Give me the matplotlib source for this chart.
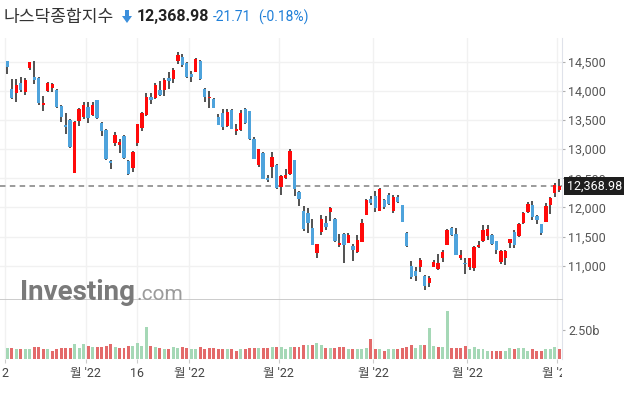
import matplotlib.pyplot as plt
import numpy as np
from matplotlib.patches import Polygon
from matplotlib.transforms import Bbox

# 나스닥종합지수 daily candles, 2 Feb 2022 .. 1 Aug 2022 (124 sessions)
opens = [14510, 14040, 13965, 14130, 13980, 14385, 14235, 14220, 13755, 13998,
         14050, 14010, 13732, 13420, 13500, 12590, 13489, 13558, 13720, 13593,
         13836, 13448, 13333, 12800, 13102, 13078, 13229, 12795, 12680, 13102,
         13356, 13583, 13895, 13877, 14010, 14016, 14223, 14212, 14517, 14575,
         14477, 14287, 14327, 14517, 14027, 13872, 13854, 13555, 13612, 13393,
         13664, 13307, 13324, 13681, 13647, 13180, 12727, 12933, 12510, 12700,
         12730, 12345, 12506, 12580, 12810, 12264, 11943, 11902, 11644, 11213,
         11575, 11741, 11920, 11805, 11356, 11540, 11397, 11339, 11230, 11414,
         11874, 12149, 12190, 11943, 12121, 12218, 11931, 12172, 12034, 11569,
         10994, 10908, 10983, 10817, 10702, 10977, 10943, 11132, 11349, 11653,
         11538, 11132, 11052, 10977, 10960, 11320, 11424, 11504, 11521, 11424,
         11063, 11137, 11389, 11573, 11510, 11733, 11922, 12036, 11847, 11710,
         11750, 12036, 12248, 12305]
highs = [14515, 14210, 14210, 14240, 14225, 14500, 14510, 14240, 13910, 14150,
         14142, 14038, 13750, 13620, 13520, 13490, 13703, 13807, 13807, 13807,
         13847, 13460, 13345, 12810, 13298, 13171, 13235, 12810, 12969, 13440,
         13630, 13970, 13970, 14143, 14171, 14229, 14316, 14390, 14673, 14633,
         14489, 14344, 14569, 14529, 14056, 13998, 13872, 13595, 13681, 13681,
         13681, 13439, 13664, 13704, 13653, 13203, 13006, 12950, 12560, 12950,
         12750, 12563, 12661, 13000, 12810, 12276, 12017, 11997, 11794, 11374,
         11874, 11851, 12000, 11816, 11540, 11569, 11569, 11374, 11529, 11805,
         12149, 12201, 12276, 12334, 12149, 12247, 12218, 12218, 12046, 11587,
         11080, 10983, 11127, 10835, 10817, 11092, 11200, 11263, 11630, 11664,
         11647, 11263, 11137, 11137, 11332, 11424, 11693, 11693, 11538, 11424,
         11263, 11275, 11452, 11607, 11733, 11922, 12093, 12105, 11865, 11722,
         12076, 12179, 12420, 12494]
lows = [14285, 13860, 13810, 13980, 13935, 14356, 14125, 13750, 13662, 13980,
        13980, 13700, 13460, 13260, 13027, 12587, 13400, 13518, 13443, 13575,
        13518, 13229, 12813, 12665, 13055, 12940, 12825, 12555, 12610, 13060,
        13316, 13565, 13768, 13866, 13912, 13912, 14039, 14143, 14460, 14402,
        14229, 14160, 14316, 14189, 13814, 13710, 13699, 13411, 13324, 13382,
        13340, 13237, 13307, 13439, 13160, 12834, 12700, 12480, 12440, 12505,
        12320, 12218, 12489, 12560, 12190, 12017, 11590, 11570, 11357, 11127,
        11529, 11615, 11759, 11414, 11327, 11040, 11385, 11075, 11224, 11402,
        11874, 12046, 11920, 11943, 11977, 12034, 11903, 12080, 11750, 11328,
        10770, 10736, 10890, 10576, 10634, 10977, 10930, 11063, 11349, 11515,
        11178, 11103, 10863, 10920, 10903, 11309, 11406, 11435, 11349, 11206,
        11023, 11006, 11309, 11309, 11492, 11722, 11905, 11779, 11716, 11532,
        11750, 11893, 12179, 12265]
closes = [14418, 13879, 14098, 14016, 14194, 14490, 14186, 13791, 13790, 14140,
          14124, 13717, 13548, 13382, 13037, 13474, 13695, 13751, 13532, 13752,
          13538, 13313, 12831, 12755, 13246, 13130, 12844, 12581, 12949, 13437,
          13615, 13894, 13838, 14109, 13923, 14192, 14169, 14355, 14620, 14442,
          14240, 14241, 14545, 14210, 13900, 13897, 13711, 13412, 13372, 13644,
          13351, 13340, 13620, 13453, 13175, 12839, 13005, 12491, 12470, 12872,
          12335, 12536, 12564, 12965, 12318, 12145, 11623, 11738, 11364, 11371,
          11805, 11663, 11985, 11418, 11388, 11355, 11535, 11265, 11435, 11741,
          12131, 12081, 11994, 12317, 12013, 12061, 12175, 12090, 11754, 11340,
          10809, 10828, 11099, 10646, 10798, 11069, 11053, 11232, 11608, 11525,
          11182, 11178, 11029, 11128, 11322, 11362, 11621, 11635, 11373, 11265,
          11248, 11251, 11452, 11360, 11713, 11898, 12060, 11834, 11783, 11563,
          12032, 12163, 12391, 12368.98]
volumes = [0.92, 0.92, 0.83, 0.83, 0.83, 0.83, 1.00, 1.00, 0.83, 0.83,
           0.72, 0.83, 0.92, 0.92, 0.92, 1.26, 0.92, 1.26, 1.15, 1.00,
           1.00, 1.00, 1.15, 1.26, 1.00, 0.92, 0.92, 1.09, 1.09, 1.35,
           1.09, 2.73, 1.09, 1.00, 0.92, 0.83, 0.83, 1.00, 0.92, 1.00,
           0.92, 0.83, 0.83, 1.00, 0.83, 0.92, 0.92, 0.83, 0.83, 0.83,
           0.83, 0.72, 0.83, 0.83, 0.92, 0.92, 0.92, 0.92, 0.92, 1.00,
           1.00, 1.00, 0.83, 1.00, 1.00, 1.00, 1.18, 1.18, 1.18, 1.35,
           1.18, 0.92, 0.92, 0.92, 1.00, 1.06, 0.83, 0.83, 0.83, 0.83,
           0.92, 1.72, 0.83, 0.83, 0.72, 0.83, 0.83, 0.83, 0.92, 1.00,
           1.18, 0.92, 1.18, 1.18, 2.64, 1.09, 1.00, 1.00, 4.13, 0.92,
           0.92, 0.92, 1.09, 0.83, 1.00, 0.83, 0.83, 0.72, 0.72, 0.72,
           0.72, 0.72, 0.92, 0.83, 0.92, 0.92, 0.72, 0.83, 0.72, 0.72,
           0.83, 0.83, 1.00, 0.83]
prev_close = 14346.0  # close before the first session

xtick_pos = [-0.5, 17.5, 29, 40.5, 60.5, 81.5, 102.5, 122.5]
xtick_labels = ["2", "월 '22", "16", "월 '22", "월 '22", "월 '22", "월 '22", "월 '22"]
price_ticks = [11000, 11500, 12000, 12500, 13000, 13500, 14000, 14500]
vol_ticks = [2.5]
vol_tick_labels = ["2.50b"]

title = "나스닥종합지수"
last_price = 12368.98
change = -21.71
change_pct = -0.18

UP = "#ff0a0a"
DOWN = "#4ea3dc"
VUP = "#a5d8b6"
VDOWN = "#e36a6a"
W, H = 629, 397

plt.rcParams['font.family'] = ['Roboto', 'Noto Sans CJK KR', 'DejaVu Sans']

fig = plt.figure(figsize=(W / 100, H / 100), dpi=100)
ax = fig.add_axes([0, (H - 300) / H, 562 / W, (300 - 38) / H])
axv = fig.add_axes([0, (H - 359) / H, 562 / W, (359 - 300) / H], sharex=ax)

o = np.array(opens, float)
h = np.array(highs, float)
l = np.array(lows, float)
c = np.array(closes, float)
x = np.arange(len(c))
up = c >= o

# candles: wick then body
ax.vlines(x, l, h, color="#222222", lw=1.1, zorder=2)
body_lo = np.minimum(o, c)
body_h = np.maximum(np.abs(c - o), 12)
ax.bar(x, body_h, bottom=body_lo, width=0.74, color=np.where(up, UP, DOWN),
       linewidth=0, zorder=3)

ax.set_xlim(-1.63, 123.6)
ax.set_ylim(10412, 14907)

# last price line + label
ax.axhline(last_price, color="#8a8a8a", lw=1.2, ls=(0, (3.3, 2.6)), zorder=1)
ax.annotate(f"{last_price:,.2f}", xy=(1, last_price),
            xycoords=('axes fraction', 'data'), xytext=(3.3, 0),
            textcoords='offset points', va='center', ha='left',
            color='white', fontsize=9, annotation_clip=False, zorder=10,
            bbox=dict(boxstyle='square,pad=0.2', fc='#1e1e1e', ec='none'))

ax.yaxis.tick_right()
ax.set_yticks(price_ticks)
ax.set_yticklabels([f"{t:,}" for t in price_ticks])
ax.tick_params(axis='y', length=2.5, width=0.8, color='#b0b0b0', pad=2,
               labelsize=9, labelcolor='#555555')
ax.tick_params(axis='x', length=0, labelbottom=False)
ax.set_xticks(xtick_pos)
ax.grid(True, color='#f1f1f1', lw=1.0, zorder=0)
ax.set_axisbelow(True)
for s in ['top', 'left']:
    ax.spines[s].set_visible(False)
ax.spines['right'].set_color('#dfe2ea')
ax.spines['bottom'].set_color('#c4c4c4')
ax.spines['bottom'].set_linewidth(1.2)

# volume, coloured by change vs previous close
cprev = np.concatenate([[prev_close], c[:-1]])
vcol = np.where(c > cprev, VUP, VDOWN)
axv.bar(x, volumes, width=0.66, color=vcol, linewidth=0, zorder=2)
axv.set_ylim(0, 5.09)
axv.yaxis.tick_right()
axv.set_yticks(vol_ticks)
axv.set_yticklabels(vol_tick_labels)
axv.tick_params(axis='y', length=2.5, width=0.8, color='#b0b0b0', pad=2,
                labelsize=9, labelcolor='#555555')
axv.set_xticks(xtick_pos)
axv.set_xticklabels(xtick_labels)
axv.tick_params(axis='x', length=3, width=0.8, color='#cccccc', pad=2.5,
                labelsize=9, labelcolor='#444444')
axv.grid(True, axis='x', color='#f1f1f1', lw=1.0, zorder=0)
axv.set_axisbelow(True)
for s in ['top', 'left', 'bottom']:
    axv.spines[s].set_visible(False)
axv.spines['right'].set_color('#dfe2ea')

# last x label is cut at the right edge of the plot
clip = Bbox([[0, 0], [562, H]])
axv.get_xticklabels()[-1].set_clip_box(clip)
axv.get_xticklabels()[-1].set_clip_on(True)

# header
fig.text(4 / W, 1 - 17 / H, title, fontsize=12.3, color='#333333',
         family=['Noto Sans CJK KR', 'DejaVu Sans'], va='center', ha='left')
arrow_px = np.array([[125, 10], [129, 10], [129, 16], [132, 16], [127, 23],
                     [122, 16], [125, 16]], float)
arrow_px[:, 1] = H - arrow_px[:, 1]
fig.patches.append(Polygon(arrow_px / 100, closed=True,
                           transform=fig.dpi_scale_trans,
                           fc='#3b8fdc', ec='none'))
fig.text(137 / W, 1 - 17 / H, f"{last_price:,.2f}", fontsize=11.5,
         fontweight='bold', color='#222222', va='center', ha='left')
fig.text(213 / W, 1 - 17 / H, f"{change:.2f}", fontsize=10,
         color='#1f7fd8', va='center', ha='left')
fig.text(258 / W, 1 - 17 / H, f"({change_pct:.2f}%)", fontsize=10,
         color='#1f7fd8', va='center', ha='left')

# watermark
fig.text(20 / W, 1 - 300 / H, "Investing", fontsize=20, fontweight='bold',
         color='#7a7a7a', va='baseline', ha='left', zorder=20)
fig.text(136 / W, 1 - 300 / H, ".com", fontsize=15, color='#9b9b9b',
         va='baseline', ha='left', zorder=20)

fig.savefig("out.png", dpi=100)
